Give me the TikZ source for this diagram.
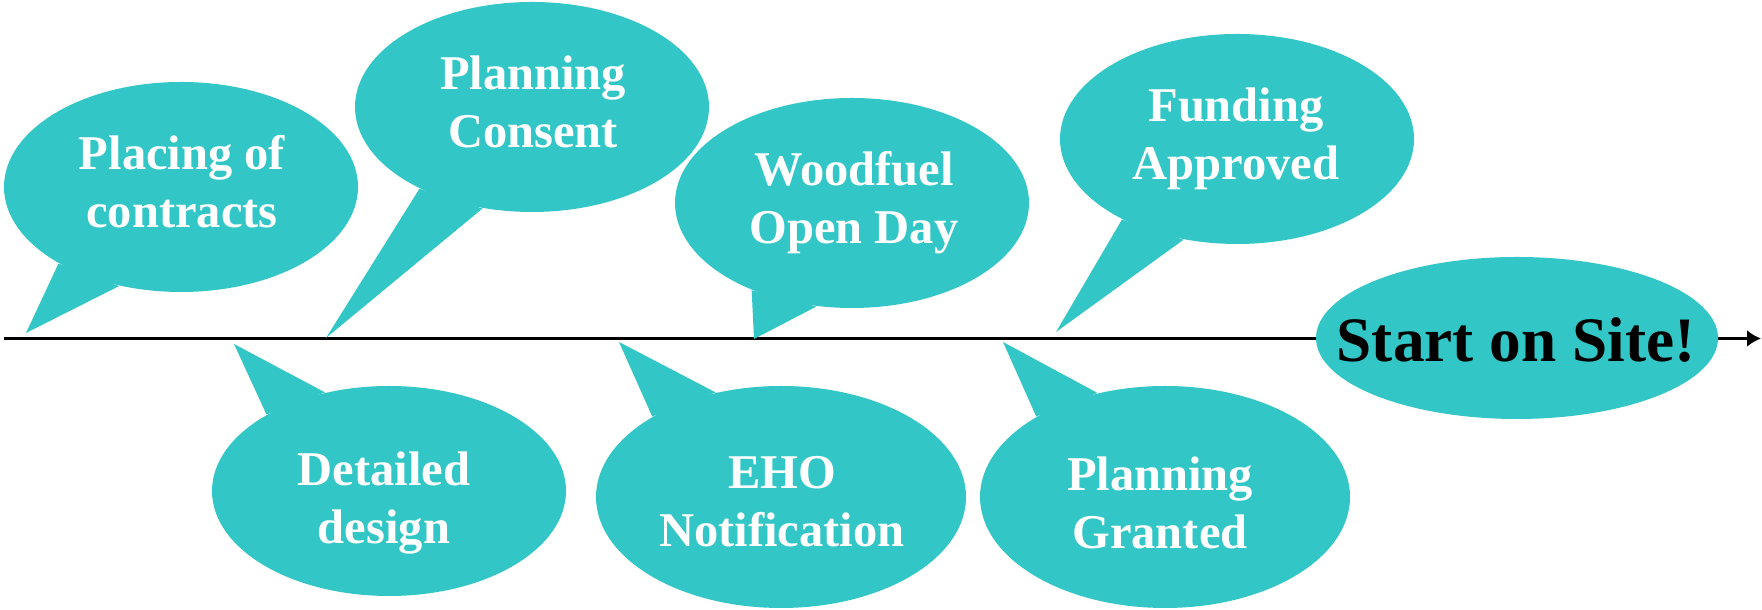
\documentclass[tikz,border=0pt]{standalone}
\usepackage{fontspec}
\setmainfont{Liberation Serif}
\usepackage{tikz}
\usetikzlibrary{arrows.meta, positioning, shapes.geometric}
\definecolor{bubblecol}{HTML}{33C6C6}
\tikzset{
    bubble/.style={ellipse, fill=bubblecol, inner sep=0pt, minimum width=3.54cm, minimum height=2.10cm},
    bigbubble/.style={bubble, minimum width=3.70cm, minimum height=2.22cm},
    btext/.style={anchor=north, inner sep=0pt, align=center, text=white, font=\fontsize{13.8}{16.5}\selectfont\bfseries},
    tail/.style={fill=bubblecol},
}

\begin{document}
\begin{tikzpicture}
    \useasboundingbox (0,0) rectangle (17.62,6.10);

    % timeline
    \coordinate (t0) at (0.04,2.715);
    \coordinate (t1) at (17.61,2.715);
    \draw[line width=0.85pt, -{Latex[length=1.4mm,width=1.7mm]}] (t0) -- (t1);

    % Placing of contracts
    \node[bubble] (placing) at (1.81,4.23) {};
    \coordinate (placing-tip) at (0.26,2.77);
    \fill[tail] (placing.212) -- (placing-tip) -- (placing.238) -- cycle;
    \node[btext] (placing-txt) at (1.82,4.75) {Placing of\\contracts};

    % Planning Consent
    \node[bubble] (consent) at (5.32,5.03) {};
    \coordinate (consent-tip) at (3.26,2.72);
    \fill[tail] (consent.216) -- (consent-tip) -- (consent.244) -- cycle;
    \node[btext] (consent-txt) at (5.33,5.55) {Planning\\Consent};

    % Woodfuel Open Day
    \node[bubble] (woodfuel) at (8.52,4.07) {};
    \coordinate (woodfuel-tip) at (7.54,2.71);
    \fill[tail] (woodfuel.221) -- (woodfuel-tip) -- (woodfuel.251) -- cycle;
    \node[btext] (woodfuel-txt) at (8.54,4.59) {Woodfuel\\Open Day};

    % Funding Approved
    \node[bubble] (funding) at (12.37,4.71) {};
    \coordinate (funding-tip) at (10.56,2.78);
    \fill[tail] (funding.215) -- (funding-tip) -- (funding.242) -- cycle;
    \node[btext] (funding-txt) at (12.36,5.23) {Funding\\Approved};

    % Detailed design
    \node[bubble] (detailed) at (3.89,1.19) {};
    \coordinate (detailed-tip) at (2.34,2.66);
    \fill[tail] (detailed.148) -- (detailed-tip) -- (detailed.123) -- cycle;
    \node[btext] (detailed-txt) at (3.84,1.59) {Detailed\\design};

    % EHO Notification
    \node[bigbubble] (eho) at (7.81,1.13) {};
    \coordinate (eho-tip) at (6.19,2.68);
    \fill[tail] (eho.148) -- (eho-tip) -- (eho.122) -- cycle;
    \node[btext] (eho-txt) at (7.82,1.54) {EHO\\Notification};

    % Planning Granted
    \node[bigbubble] (granted) at (11.65,1.13) {};
    \coordinate (granted-tip) at (10.03,2.68);
    \fill[tail] (granted.148) -- (granted-tip) -- (granted.123) -- cycle;
    \node[btext] (granted-txt) at (11.60,1.54) {Planning\\Granted};

    % Start on Site!
    \node[bubble, minimum width=4.02cm, minimum height=1.62cm] (start) at (15.17,2.72) {};
    \node[inner sep=0pt, font=\fontsize{18}{20}\selectfont\bfseries] (start-txt) at (15.16,2.70) {Start on Site!};
\end{tikzpicture}
\end{document}
